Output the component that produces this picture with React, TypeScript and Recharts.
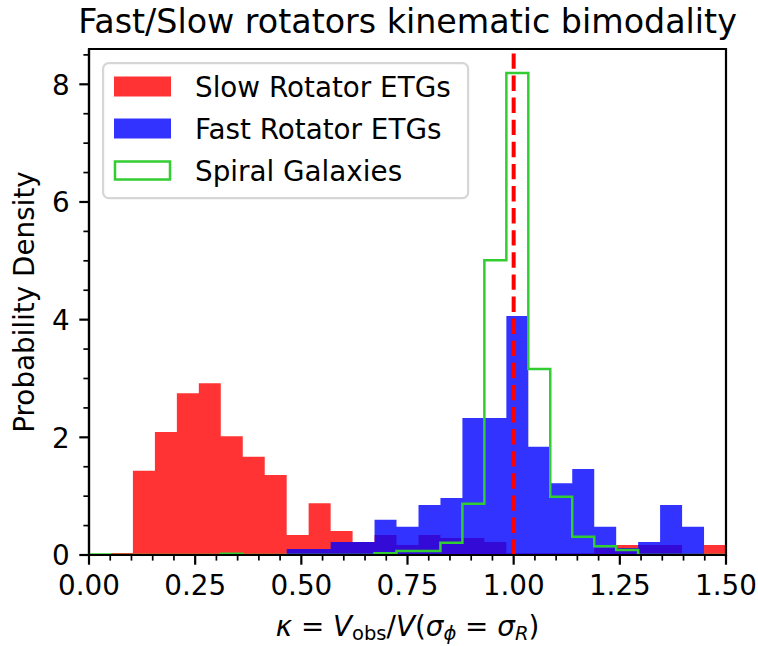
import React from "react";
import {
  ComposedChart,
  Area,
  Line,
  XAxis,
  YAxis,
  ReferenceLine,
  ReferenceArea,
  Legend,
} from "recharts";

// Shared histogram bin edges (29 bins over 0..1.5)
const BIN_EDGES = [
  0, 0.0517, 0.1034, 0.1552, 0.2069, 0.2586, 0.3103, 0.3621, 0.4138, 0.4655,
  0.5172, 0.569, 0.6207, 0.6724, 0.7241, 0.7759, 0.8276, 0.8793, 0.931, 0.9828,
  1.0345, 1.0862, 1.1379, 1.1897, 1.2414, 1.2931, 1.3448, 1.3966, 1.4483, 1.5,
];

// Probability density per bin
const SLOW_ROTATORS = [
  0, 0.035, 1.43, 2.09, 2.75, 2.92, 2.02, 1.67, 1.36, 0.34, 0.88, 0.41, 0.22,
  0.34, 0.17, 0.34, 0.29, 0.29, 0.22, 0.03, 0.03, 0.03, 0.03, 0.12, 0.17, 0.17,
  0.17, 0.03, 0.17,
];
const FAST_ROTATORS = [
  0, 0, 0, 0, 0, 0, 0, 0, 0, 0.1, 0.1, 0.22, 0.22, 0.6, 0.48, 0.85, 0.97, 2.33,
  2.33, 4.06, 1.84, 1.22, 1.46, 0.48, 0.12, 0.22, 0.85, 0.48, 0,
];
const SPIRALS = [
  0.01, 0, 0, 0, 0, 0, 0.02, 0, 0, 0, 0, 0, 0, 0.03, 0.07, 0.07, 0.21, 0.87,
  5.01, 8.19, 3.16, 0.99, 0.31, 0.15, 0.085, 0, 0, 0, 0,
];

const X_MAJOR_TICKS = [0, 0.25, 0.5, 0.75, 1.0, 1.25, 1.5];
const X_TICK_LABELS = ["0.00", "0.25", "0.50", "0.75", "1.00", "1.25", "1.50"];
const Y_MAJOR_TICKS = [0, 2, 4, 6, 8];
const Y_TICK_LABELS = ["0", "2", "4", "6", "8"];
const X_MINOR_STEP = 0.05;
const Y_MINOR_STEP = 0.5;
const X_MAX = 1.5;
const Y_MAX = 8.6;

const TITLE = "Fast/Slow rotators kinematic bimodality";
const Y_LABEL = "Probability Density";
const LEGEND_ITEMS = [
  { label: "Slow Rotator ETGs", color: "#ff0000", kind: "fill" },
  { label: "Fast Rotator ETGs", color: "#0000ff", kind: "fill" },
  { label: "Spiral Galaxies", color: "#32cd32", kind: "outline" },
];

const data = BIN_EDGES.map((e, i) => {
  const k = Math.min(i, SLOW_ROTATORS.length - 1);
  return {
    x: e,
    slow: SLOW_ROTATORS[k],
    fast: FAST_ROTATORS[k],
    spiral: SPIRALS[k],
  };
});

const xTicks: number[] = [];
for (let i = 0; i <= Math.round(X_MAX / X_MINOR_STEP); i++) xTicks.push(+(i * X_MINOR_STEP).toFixed(4));
const yTicks: number[] = [];
for (let i = 0; i <= 17; i++) yTicks.push(i * Y_MINOR_STEP);

const FONT = "'DejaVu Sans', sans-serif";
const FS = 27.8;
const MAJOR_LEN = 9.7;
const MINOR_LEN = 5.6;
const PAD = 9.7;

const findIdx = (arr: number[], v: number) =>
  arr.findIndex((a) => Math.abs(a - v) < 1e-6);

const XTick = (props: any) => {
  const { x, y, payload } = props;
  const idx = findIdx(X_MAJOR_TICKS, payload.value);
  const major = idx >= 0;
  return (
    <g>
      <line
        x1={x}
        x2={x}
        y1={y}
        y2={y + (major ? MAJOR_LEN : MINOR_LEN)}
        stroke="#000"
        strokeWidth={major ? 2.2 : 1.7}
      />
      {major && (
        <text
          x={x}
          y={y + MAJOR_LEN + PAD + 20.5}
          textAnchor="middle"
          fontFamily={FONT}
          fontSize={FS}
          fill="#000"
        >
          {X_TICK_LABELS[idx]}
        </text>
      )}
    </g>
  );
};

const YTick = (props: any) => {
  const { x, y, payload } = props;
  const idx = findIdx(Y_MAJOR_TICKS, payload.value);
  const major = idx >= 0;
  return (
    <g>
      <line
        x1={x - (major ? MAJOR_LEN : MINOR_LEN)}
        x2={x}
        y1={y}
        y2={y}
        stroke="#000"
        strokeWidth={major ? 2.2 : 1.7}
      />
      {major && (
        <text
          x={x - MAJOR_LEN - PAD}
          y={y + 10.2}
          textAnchor="end"
          fontFamily={FONT}
          fontSize={FS}
          fill="#000"
        >
          {Y_TICK_LABELS[idx]}
        </text>
      )}
    </g>
  );
};

const LegendBox = () => (
  <svg width={370} height={140} style={{ display: "block" }}>
    <rect
      x={1.1}
      y={1.1}
      width={365}
      height={135}
      rx={5.6}
      ry={5.6}
      fill="#ffffff"
      fillOpacity={0.8}
      stroke="#d6d6d6"
      strokeWidth={2.2}
    />
    {LEGEND_ITEMS.map((it, i) => {
      const cy = 24.5 + i * 42;
      return (
        <g key={it.label}>
          {it.kind === "fill" ? (
            <rect x={12} y={cy - 10} width={57} height={20} fill={it.color} fillOpacity={0.8} />
          ) : (
            <rect x={13} y={cy - 9} width={55} height={18} fill="none" stroke={it.color} strokeWidth={2.5} />
          )}
          <text x={93} y={cy + 10.2} fontFamily={FONT} fontSize={FS} fill="#000">
            {it.label}
          </text>
        </g>
      );
    })}
  </svg>
);

export default function App() {
  const sub = 19.5;
  return (
    <div style={{ position: "absolute", left: 0, top: 0, width: 758, height: 646, background: "#fff" }}>
      <ComposedChart
        width={758}
        height={646}
        data={data}
        margin={{ top: 49, right: 32, bottom: 31, left: 29 }}
      >
        <XAxis
          dataKey="x"
          type="number"
          domain={[0, X_MAX]}
          ticks={xTicks}
          interval={0}
          tick={<XTick />}
          tickLine={false}
          tickSize={0}
          tickMargin={0}
          height={60}
          axisLine={{ stroke: "#000", strokeWidth: 2.2 }}
          allowDataOverflow
        />
        <YAxis
          type="number"
          domain={[0, Y_MAX]}
          ticks={yTicks}
          interval={0}
          tick={<YTick />}
          tickLine={false}
          tickSize={0}
          tickMargin={0}
          width={60}
          axisLine={{ stroke: "#000", strokeWidth: 2.2 }}
          allowDataOverflow
        />
        <Area
          type="stepAfter"
          dataKey="slow"
          fill="#ff0000"
          fillOpacity={0.8}
          stroke="none"
          dot={false}
          activeDot={false}
          isAnimationActive={false}
        />
        <Area
          type="stepAfter"
          dataKey="fast"
          fill="#0000ff"
          fillOpacity={0.8}
          stroke="none"
          dot={false}
          activeDot={false}
          isAnimationActive={false}
        />
        <Line
          type="stepAfter"
          dataKey="spiral"
          stroke="#32cd32"
          strokeWidth={2.5}
          dot={false}
          activeDot={false}
          isAnimationActive={false}
        />
        <ReferenceArea
          x1={0}
          x2={X_MAX}
          y1={0}
          y2={Y_MAX}
          fill="none"
          fillOpacity={0}
          stroke="#000"
          strokeWidth={2.2}
          strokeOpacity={1}
          ifOverflow="visible"
        />
        <ReferenceLine x={1} stroke="#ff0000" strokeWidth={4} strokeDasharray="15.4 6.7" />
        <Legend
          layout="horizontal"
          verticalAlign="middle"
          align="center"
          content={() => <LegendBox />}
          wrapperStyle={{ position: "absolute", left: 101.5, top: 61.5, width: 370, height: 140 }}
        />
      </ComposedChart>
      <svg
        width={758}
        height={646}
        style={{ position: "absolute", left: 0, top: 0, pointerEvents: "none" }}
      >
        <text x={407.5} y={32.5} textAnchor="middle" fontFamily={FONT} fontSize={33.3} fill="#000">
          {TITLE}
        </text>
        <text
          transform="translate(33.5,302) rotate(-90)"
          textAnchor="middle"
          fontFamily={FONT}
          fontSize={FS}
          fill="#000"
        >
          {Y_LABEL}
        </text>
        <text x={407.5} y={636} textAnchor="middle" fontFamily={FONT} fontSize={FS} fill="#000">
          <tspan fontStyle="italic">κ</tspan>
          <tspan>{" = "}</tspan>
          <tspan fontStyle="italic">V</tspan>
          <tspan fontSize={sub} dy={4}>obs</tspan>
          <tspan dy={-4}>/</tspan>
          <tspan fontStyle="italic">V</tspan>
          <tspan>(</tspan>
          <tspan fontStyle="italic">σ</tspan>
          <tspan fontStyle="italic" fontSize={sub} dy={4}>ϕ</tspan>
          <tspan dy={-4}>{" = "}</tspan>
          <tspan fontStyle="italic">σ</tspan>
          <tspan fontStyle="italic" fontSize={sub} dy={4}>R</tspan>
          <tspan dy={-4}>)</tspan>
        </text>
      </svg>
    </div>
  );
}
